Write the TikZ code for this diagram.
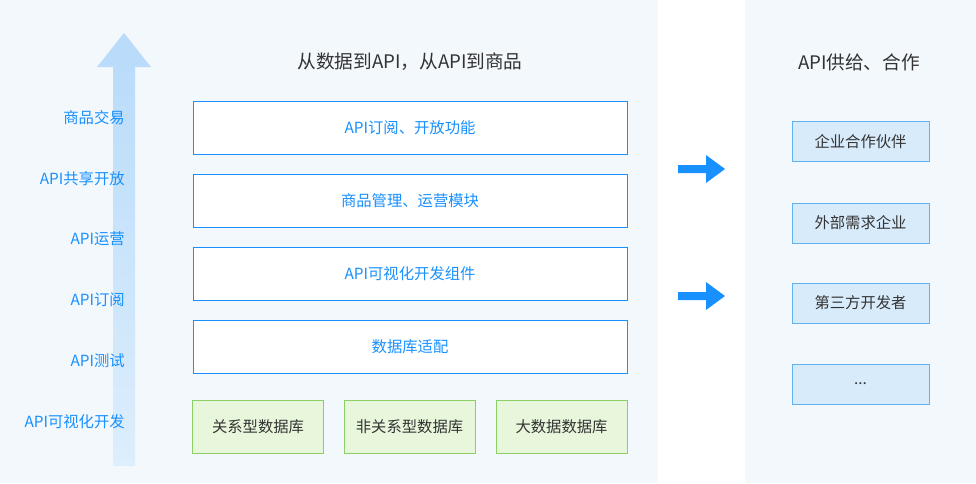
\documentclass[tikz,border=0pt]{standalone}
\usepackage{fontspec}
\setmainfont{Noto Sans CJK SC}
\definecolor{panel}{HTML}{F3F8FD}
\definecolor{blu}{HTML}{1890FF}
\definecolor{txt}{HTML}{333333}
\definecolor{arrtop}{HTML}{BADCFA}
\definecolor{arrbot}{HTML}{DDEEFC}
\definecolor{gfill}{HTML}{E8F7DC}
\definecolor{gline}{HTML}{8CD063}
\definecolor{rfill}{HTML}{D8EBFB}
\definecolor{rline}{HTML}{62B1F3}
\tikzset{
 layer/.style={draw=blu,fill=white,minimum width=434*0.75pt,minimum height=53*0.75pt,text=blu,font=\fontsize{11.5}{13}\selectfont,inner sep=0pt},
 gbox/.style={draw=gline,fill=gfill,minimum width=131*0.75pt,minimum height=53*0.75pt,text=txt,font=\fontsize{11.5}{13}\selectfont,inner sep=0pt},
 rbox/.style={draw=rline,fill=rfill,minimum width=137*0.75pt,minimum height=40*0.75pt,text=txt,font=\fontsize{11.5}{13}\selectfont,inner sep=0pt},
 lab/.style={anchor=east,text=blu,font=\fontsize{11.5}{13}\selectfont,inner sep=0pt},
 ttl/.style={text=txt,font=\fontsize{14}{16}\selectfont},
}
\begin{document}
\begin{tikzpicture}[x=0.75pt,y=-0.75pt]
\useasboundingbox (0,0) rectangle (976,483);
\fill[panel] (0,0) rectangle (658,483);
\fill[panel] (745,0) rectangle (976,483);
\shade[top color=arrtop,bottom color=arrbot] (113,66) rectangle (135,465);
\fill[arrtop] (97,67) -- (124,33) -- (151,67) -- cycle;
\node[lab] (l1) at (125,118) {商品交易};
\node[lab] (l2) at (125,179) {API共享开放};
\node[lab] (l3) at (125,239) {API运营};
\node[lab] (l4) at (125,300) {API订阅};
\node[lab] (l5) at (125,361) {API测试};
\node[lab] (l6) at (125,422) {API可视化开发};
\node[ttl] (t1) at (410,62) {从数据到API，从API到商品};
\node[layer] (b1) at (410,127.5) {API订阅、开放功能};
\node[layer] (b2) at (410,200.5) {商品管理、运营模块};
\node[layer] (b3) at (410,273.5) {API可视化开发组件};
\node[layer] (b4) at (410,346.5) {数据库适配};
\node[gbox] (g1) at (258,426.5) {关系型数据库};
\node[gbox] (g2) at (409.5,426.5) {非关系型数据库};
\node[gbox] (g3) at (561.5,426.5) {大数据数据库};
\foreach \yy in {169,296}{
 \fill[blu] (678,\yy-4) -- (706,\yy-4) -- (706,\yy-14) -- (725,\yy) -- (706,\yy+14) -- (706,\yy+4) -- (678,\yy+4) -- cycle;}
\node[ttl] (t2) at (859,62) {API供给、合作};
\node[rbox] (r1) at (860.5,141.5) {企业合作伙伴};
\node[rbox] (r2) at (860.5,223) {外部需求企业};
\node[rbox] (r3) at (860.5,303) {第三方开发者};
\node[rbox] (r4) at (860.5,384) {...};
\end{tikzpicture}
\end{document}
